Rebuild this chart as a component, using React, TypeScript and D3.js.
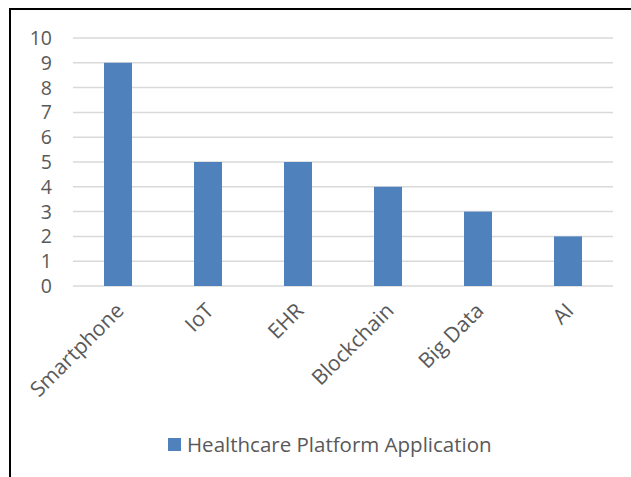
import React from "react";
import * as d3 from "d3";

const categories = ["Smartphone", "IoT", "EHR", "Blockchain", "Big Data", "AI"];
const values = [9, 5, 5, 4, 3, 2];
const yTicks = [0, 1, 2, 3, 4, 5, 6, 7, 8, 9, 10];
const seriesName = "Healthcare Platform Application";

const W = 631;
const H = 477;
const FONT = "'Open Sans', 'Liberation Sans', sans-serif";
const TEXT = "#595959";
const BAR = "#4F81BD";

export default function App() {
  const x = d3.scaleBand<string>().domain(categories).range([73, 613]).paddingInner(0).paddingOuter(0);
  const y = d3.scaleLinear().domain([0, 10]).range([286, 38]);
  const barW = 28;

  return (
    <svg
      width={W}
      height={H}
      style={{ position: "absolute", left: 0, top: 0, background: "#fff" }}
      fontFamily={FONT}
    >
      <rect x={0} y={0} width={W} height={H} fill="#fff" />
      {/* border */}
      <line x1={9} y1={9} x2={W} y2={9} stroke="#000" strokeWidth={2} />
      <line x1={10} y1={9} x2={10} y2={H} stroke="#000" strokeWidth={2} />
      {/* gridlines */}
      {yTicks.map((t) => (
        <line key={t} x1={73} x2={613} y1={y(t)} y2={y(t)} stroke="#D9D9D9" strokeWidth={1.5} />
      ))}
      {/* y tick labels */}
      {yTicks.map((t) => (
        <text key={"l" + t} x={52} y={y(t) + 7} textAnchor="end" fontSize={19.5} fill={TEXT}>
          {t}
        </text>
      ))}
      {/* bars */}
      {categories.map((c, i) => {
        const cx = (x(c) as number) + x.bandwidth() / 2;
        return (
          <rect key={c} x={cx - barW / 2} y={y(values[i])} width={barW} height={y(0) - y(values[i])} fill={BAR} />
        );
      })}
      {/* category labels */}
      {categories.map((c) => {
        const cx = (x(c) as number) + x.bandwidth() / 2;
        const ax = cx + 7;
        const ay = 312;
        return (
          <text
            key={"c" + c}
            x={ax}
            y={ay}
            textAnchor="end"
            fontSize={21}
            fill={TEXT}
            transform={`rotate(-45 ${ax} ${ay})`}
          >
            {c}
          </text>
        );
      })}
      {/* legend */}
      <rect x={168} y={438} width={13} height={13} fill={BAR} />
      <text x={187} y={452} fontSize={20.5} fill={TEXT}>
        {seriesName}
      </text>
    </svg>
  );
}
